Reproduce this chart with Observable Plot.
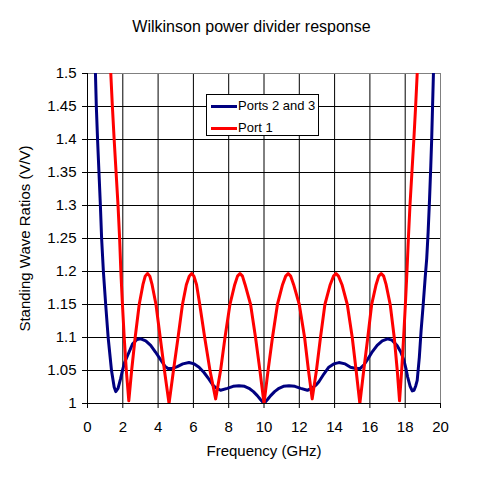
<!DOCTYPE html>
<html>
<head>
<meta charset="utf-8">
<script src="https://cdn.jsdelivr.net/npm/d3@7"></script>
<script src="https://cdn.jsdelivr.net/npm/@observablehq/plot@0.6"></script>
<style>
  body { margin: 0; background: white; }
  #wrap { position: relative; width: 503px; height: 479px; background: white; font-family: "Liberation Sans", Arial, sans-serif; }
  #title { height: 46px; box-sizing: border-box; padding-top: 18px; line-height: 18px; font-size: 16px; text-align: center; color: black; }
  #legend { position: absolute; left: 206px; top: 94px; width: 111px; height: 40px; border: 1px solid black; background: white; font-size: 13px; }
  .entry { position: absolute; left: 0; height: 16px; line-height: 16px; }
  .swatch { position: absolute; left: 4px; top: 7px; width: 26px; height: 3px; }
  .lab { position: absolute; left: 31px; top: 0; white-space: nowrap; }
</style>
</head>
<body>
<div id="wrap">
  <div id="title">Wilkinson power divider response</div>
  <div id="chart"></div>
  <div id="legend"></div>
</div>
<script>
const seriesNames = ["Ports 2 and 3", "Port 1"];
const seriesColors = ["#000080", "#FF0000"];

const xTicks = [0, 2, 4, 6, 8, 10, 12, 14, 16, 18, 20];
const yTicks = [1, 1.05, 1.1, 1.15, 1.2, 1.25, 1.3, 1.35, 1.4, 1.45, 1.5];

// Ports 2 and 3
const blueFreq = [0.45, 0.5, 0.57, 0.65, 0.73, 0.8, 0.9, 1.03, 1.17, 1.36, 1.51, 1.6, 1.73, 1.88, 1.98, 2.1, 2.26, 2.55, 2.8, 3.02, 3.3, 3.58, 3.85, 4.15, 4.4, 4.56, 4.8, 5.09, 5.4, 5.75, 6.05, 6.32, 6.6, 6.88, 7.1, 7.26, 7.54, 7.92, 8.25, 8.58, 8.9, 9.15, 9.4, 9.62, 9.8, 10,
  10.2, 10.38, 10.6, 10.85, 11.1, 11.42, 11.75, 12.08, 12.46, 12.75, 12.95, 13.11, 13.4, 13.67, 13.95, 14.24, 14.6, 14.9, 15.2, 15.44, 15.65, 15.85, 16.1, 16.41, 16.7, 17.0, 17.25, 17.54, 17.75, 17.92, 18.05, 18.14, 18.28, 18.4, 18.5, 18.6, 18.68, 18.8, 18.9, 19.02, 19.13, 19.22, 19.3, 19.38, 19.45, 19.5, 19.55, 19.6];
const blueSWR = [1.5, 1.45, 1.4, 1.35, 1.3, 1.25, 1.2, 1.15, 1.1, 1.05, 1.025, 1.018, 1.023, 1.038, 1.05, 1.062, 1.072, 1.09, 1.097, 1.098, 1.095, 1.088, 1.078, 1.066, 1.056, 1.053, 1.053, 1.056, 1.06, 1.062, 1.06, 1.055, 1.047, 1.037, 1.028, 1.024, 1.02, 1.023, 1.026, 1.027, 1.026, 1.023, 1.018, 1.012, 1.006, 1.0,
  1.006, 1.012, 1.018, 1.023, 1.026, 1.027, 1.026, 1.023, 1.02, 1.024, 1.028, 1.033, 1.045, 1.055, 1.06, 1.062, 1.06, 1.055, 1.053, 1.053, 1.058, 1.066, 1.077, 1.088, 1.095, 1.098, 1.096, 1.088, 1.078, 1.066, 1.052, 1.04, 1.026, 1.019, 1.02, 1.027, 1.035, 1.07, 1.11, 1.15, 1.19, 1.22, 1.26, 1.31, 1.36, 1.4, 1.45, 1.5];

// Port 1
const redFreq = [1.32, 1.41, 1.51, 1.62, 1.73, 1.82, 1.89, 1.98, 2.08, 2.2, 2.34,
  2.5, 2.7, 2.93, 3.14, 3.27, 3.4, 3.53, 3.66, 3.88, 4.12, 4.36, 4.62,
  4.87, 5.13, 5.38, 5.6, 5.77, 5.9, 6.03, 6.18, 6.36, 6.64, 6.94, 7.26,
  7.54, 7.79, 8.07, 8.34, 8.5, 8.64, 8.78, 8.93, 9.24, 9.52, 9.77, 10,
  10.23, 10.48, 10.76, 11.05, 11.23, 11.37, 11.51, 11.68, 12.0, 12.3, 12.52, 12.73,
  12.97, 13.2, 13.45, 13.75, 13.94, 14.08, 14.22, 14.42, 14.72, 15.0, 15.22, 15.43,
  15.65, 15.88, 16.1, 16.35, 16.5, 16.64, 16.78, 16.92, 17.15, 17.38, 17.55, 17.68,
  17.8, 17.91, 18.01, 18.1, 18.18, 18.27, 18.38, 18.49, 18.59, 18.68];
const redSWR = [1.5, 1.45, 1.4, 1.35, 1.3, 1.25, 1.2, 1.15, 1.1, 1.05, 1.004,
  1.05, 1.1, 1.15, 1.18, 1.193, 1.197, 1.193, 1.18, 1.15, 1.1, 1.05, 1.0,
  1.05, 1.1, 1.15, 1.18, 1.193, 1.197, 1.193, 1.18, 1.15, 1.1, 1.05, 1.007,
  1.05, 1.1, 1.15, 1.18, 1.193, 1.197, 1.193, 1.18, 1.15, 1.1, 1.05, 1.0,
  1.05, 1.1, 1.15, 1.18, 1.193, 1.197, 1.193, 1.18, 1.15, 1.1, 1.05, 1.007,
  1.05, 1.1, 1.15, 1.18, 1.193, 1.197, 1.193, 1.18, 1.15, 1.1, 1.05, 1.0,
  1.05, 1.1, 1.15, 1.18, 1.193, 1.197, 1.193, 1.18, 1.15, 1.1, 1.05, 1.004,
  1.05, 1.1, 1.15, 1.2, 1.25, 1.3, 1.35, 1.4, 1.45, 1.5];

const blue = blueFreq.map((f, i) => ({f, v: blueSWR[i]}));
const red = redFreq.map((f, i) => ({f, v: redSWR[i]}));

const chart = Plot.plot({
  width: 503,
  height: 433,
  marginLeft: 87,
  marginRight: 63,
  marginTop: 27,
  marginBottom: 76,
  style: {fontFamily: "Liberation Sans, Arial, sans-serif", fontSize: "15px", color: "black", background: "white", overflow: "visible"},
  x: {domain: [0, 20]},
  y: {domain: [1, 1.5]},
  marks: [
    Plot.gridX(xTicks.slice(1, -1), {stroke: "black", strokeOpacity: 1}),
    Plot.gridY(yTicks.slice(1, -1), {stroke: "black", strokeOpacity: 1}),
    Plot.ruleY([1.5], {stroke: "#808080"}),
    Plot.ruleX([20], {stroke: "#808080"}),
    Plot.ruleX([0], {stroke: "black"}),
    Plot.ruleY([1], {stroke: "black"}),
    Plot.axisX({ticks: xTicks, tickSize: 5, tickPadding: 13, tickFormat: d => String(d), label: "Frequency (GHz)", labelAnchor: "center", labelArrow: "none", labelOffset: 52}),
    Plot.axisY({ticks: yTicks, tickSize: 5, tickPadding: 6, tickFormat: d => String(d), label: "Standing Wave Ratios (V/V)", labelAnchor: "center", labelArrow: "none", labelOffset: 68}),
    Plot.line(blue, {x: "f", y: "v", stroke: seriesColors[0], strokeWidth: 3, clip: true}),
    Plot.line(red, {x: "f", y: "v", stroke: seriesColors[1], strokeWidth: 3, clip: true})
  ]
});
document.getElementById("chart").appendChild(chart);

const legend = document.getElementById("legend");
seriesNames.forEach((name, i) => {
  const e = document.createElement("div");
  e.className = "entry";
  e.style.top = (3 + i * 21.5) + "px";
  e.style.width = "100%";
  const s = document.createElement("div");
  s.className = "swatch";
  s.style.background = seriesColors[i];
  const t = document.createElement("div");
  t.className = "lab";
  t.textContent = name;
  e.appendChild(s);
  e.appendChild(t);
  legend.appendChild(e);
});
</script>
</body>
</html>
